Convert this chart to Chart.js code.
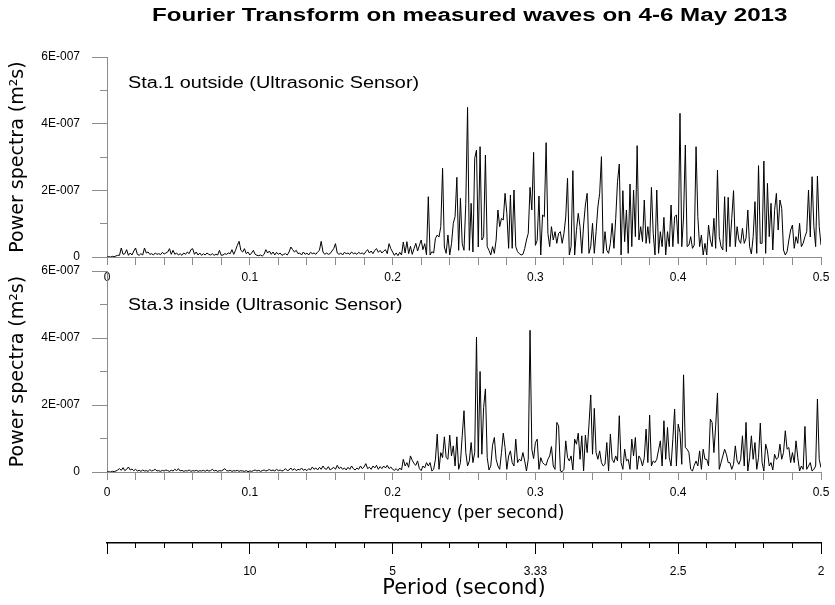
<!DOCTYPE html>
<html>
<head>
<meta charset="utf-8">
<script src="https://cdn.jsdelivr.net/npm/chart.js@4.4.1/dist/chart.umd.min.js"></script>
<style>
html,body{margin:0;padding:0;background:#fff;}
#wrap{position:relative;width:835px;height:605px;overflow:hidden;background:#fff;}
canvas{position:absolute;left:0;top:0;}
.txt{position:absolute;white-space:nowrap;transform-origin:0 0;color:#000;font-family:"Liberation Sans",Arial,sans-serif;line-height:1.15;}
#title{left:152px;top:5px;font-size:18px;font-weight:bold;transform:scaleX(1.34);}
#lab1{left:128px;top:74px;font-size:16px;transform:scaleX(1.24);}
#lab2{left:128px;top:296px;font-size:16px;transform:scaleX(1.22);}
</style>
</head>
<body>
<div id="wrap">
<canvas id="cTop" width="835" height="605"></canvas>
<canvas id="cBot" width="835" height="605"></canvas>
<canvas id="cPer" width="835" height="605"></canvas>
<div class="txt" id="title">Fourier Transform on measured waves on 4-6 May 2013</div>
<div class="txt" id="lab1">Sta.1 outside (Ultrasonic Sensor)</div>
<div class="txt" id="lab2">Sta.3 inside (Ultrasonic Sensor)</div>
</div>
<script>
// ---- DATA (power spectra in units of 1E-009 m²s, frequency step 0.00125 Hz from 0 to 0.5) ----
const FREQ_STEP = 0.00125;

const sta1Power = [
 0,1,0,2,1,3,5,5,27,8,10,22,5,12,6,18,
 27,8,5,10,6,27,12,15,8,10,6,12,8,10,7,14,
 9,12,15,25,8,20,8,12,6,10,5,12,8,15,10,22,
 25,8,15,6,12,5,10,6,12,8,6,10,5,8,6,20,
 5,6,10,8,12,10,22,8,20,35,47,20,15,25,10,15,
 6,12,20,8,5,4,6,3,8,22,12,18,8,15,6,14,
 8,12,5,8,10,6,15,30,22,15,20,10,12,6,15,8,
 12,6,14,10,12,8,15,20,47,15,8,12,8,10,18,25,
 40,12,8,12,6,14,10,12,8,15,10,12,8,14,10,12,
 8,16,22,12,18,10,20,25,14,20,12,18,22,10,40,25,
 15,5,12,4,14,6,45,12,46,10,32,8,25,41,18,35,
 51,22,40,6,181,6,16,12,56,66,60,91,266,30,11,66,
 6,40,101,121,239,20,176,40,20,161,449,20,161,15,296,321,
 30,331,51,61,306,31,20,6,31,11,51,141,91,116,111,191,
 131,26,186,26,201,31,16,10,6,8,25,51,71,209,141,314,
 35,50,183,6,126,121,343,71,31,91,51,76,41,71,76,41,
 71,120,236,6,31,259,6,80,131,91,11,96,156,191,11,31,
 101,11,76,150,191,301,11,76,20,11,41,101,26,116,226,279,
 6,199,46,141,11,219,31,201,61,334,51,91,46,171,41,91,
 41,209,71,6,201,11,76,31,119,6,76,31,156,31,121,126,
 40,431,31,120,336,31,36,61,26,36,331,121,31,66,6,41,
 6,96,51,31,116,26,261,61,31,21,181,16,179,31,116,199,
 31,91,51,41,86,41,56,141,31,9,61,166,11,274,41,41,
 288,11,221,61,161,21,140,191,81,171,146,21,6,16,51,81,
 96,26,61,41,101,31,41,61,76,201,60,241,91,31,243,91,36
];

const sta3Power = [
 0,1,0,2,1,3,6,10,5,13,4,8,15,6,9,4,
 8,3,5,2,6,3,4,2,7,3,5,8,3,4,2,5,
 3,6,4,2,5,3,8,4,10,3,5,2,4,3,6,2,
 4,3,5,2,4,3,5,2,6,3,4,8,3,5,2,4,
 3,6,10,4,3,5,2,4,3,5,2,4,3,2,4,1,
 3,2,4,6,3,5,2,4,6,3,5,7,4,6,3,8,
 4,6,3,5,10,4,6,12,5,10,4,8,6,12,5,8,
 4,10,6,15,8,12,6,14,8,18,10,8,16,6,10,14,
 8,20,10,15,8,12,6,14,8,18,10,6,12,8,18,10,
 15,25,10,14,8,18,12,20,8,16,10,18,12,20,10,15,
 8,5,10,4,12,6,38,18,28,14,48,35,25,20,33,10,
 4,18,12,28,18,28,3,8,38,113,8,58,43,105,43,38,
 110,48,78,18,105,8,28,108,183,58,18,33,88,28,58,403,
 43,300,53,193,248,43,6,18,80,103,38,18,8,58,116,73,
 8,48,63,28,18,98,28,38,33,58,33,3,38,423,68,40,
 88,98,8,43,28,23,20,38,48,76,18,8,148,138,3,1,
 8,93,43,33,48,6,98,83,116,38,108,3,110,58,140,230,
 53,190,58,38,63,28,18,23,88,3,113,38,28,48,33,168,
 28,8,68,33,38,8,98,48,103,8,48,38,18,43,128,28,
 170,18,33,28,38,66,93,18,153,38,133,43,18,98,188,18,
 143,118,23,290,73,68,58,8,3,20,33,18,63,8,68,38,
 38,18,158,148,58,138,236,8,28,48,68,53,28,28,8,23,
 78,33,23,38,108,18,148,3,43,108,38,88,8,43,146,28,
 3,83,63,18,28,6,53,38,43,83,38,58,123,68,73,28,
 58,28,93,43,3,18,8,136,8,18,28,3,8,18,218,38,13
];

const frequency = sta1Power.map((_, i) => +(i * FREQ_STEP).toFixed(5));

const yTickLabels = {0: '0', 200: '2E-007', 400: '4E-007', 600: '6E-007'};
const freqTickLabels = {0: '0', 1: '0.1', 2: '0.2', 3: '0.3', 4: '0.4', 5: '0.5'};
const periodTickLabels = {1: '10', 2: '5', 3: '3.33', 4: '2.5', 5: '2'};

// ---- STYLE ----
const AX = '#8c8c8c';
const FONT = '"Liberation Sans", Arial, sans-serif';
const W = 835, H = 605;

function tenth(v) {
  const k = Math.round(v * 10);
  return Math.abs(v * 10 - k) < 1e-6 ? k : null;
}

function panel(id, values, top, bottom, xH, xTitle) {
  return new Chart(document.getElementById(id), {
    type: 'line',
    data: {
      datasets: [{
        data: frequency.map((f, i) => ({x: f, y: values[i]})),
        borderColor: '#000', borderWidth: 1, pointRadius: 0, tension: 0, fill: false
      }]
    },
    options: {
      responsive: false, animation: false, events: [],
      layout: {padding: {left: 0, right: W - 821, top: top, bottom: H - bottom - xH}},
      plugins: {legend: {display: false}, tooltip: {enabled: false}},
      scales: {
        x: {
          type: 'linear', min: 0, max: 0.5, position: 'bottom',
          border: {display: true, color: AX, width: 1},
          grid: {display: true, drawOnChartArea: false, drawTicks: true, tickLength: 8, color: AX},
          ticks: {
            stepSize: 0.02, autoSkip: false, maxRotation: 0, padding: 5, color: '#000',
            font: {family: FONT, size: 12},
            callback: (v) => { const k = tenth(v); return k === null ? '' : freqTickLabels[k]; }
          },
          title: xTitle ? {display: true, text: xTitle, color: '#000',
                           font: {family: '"DejaVu Sans", sans-serif', size: 17}, padding: 0}
                        : {display: false},
          afterFit: (s) => { s.height = xH; }
        },
        y: {
          type: 'linear', min: 0, max: 600, position: 'left', weight: 1,
          border: {display: true, color: AX, width: 1},
          grid: {drawOnChartArea: false, drawTicks: true, tickLength: 15, color: AX},
          ticks: {
            stepSize: 200, padding: 12, color: '#000', font: {family: FONT, size: 12},
            callback: (v) => yTickLabels[v] !== undefined ? yTickLabels[v] : ''
          },
          title: {display: true, text: 'Power spectra (m²s)', color: '#000',
                  font: {family: '"DejaVu Sans", sans-serif', size: 19}, padding: {top: 7, bottom: 0}},
          afterFit: (s) => { s.width = 107; }
        },
        yMinor: {
          type: 'linear', min: 0, max: 600, position: 'left', weight: 0,
          border: {display: false},
          grid: {drawOnChartArea: false, drawTicks: true, tickLength: 7, color: AX},
          ticks: {stepSize: 100, display: false},
          afterFit: (s) => { s.width = 0; }
        }
      }
    }
  });
}

panel('cTop', sta1Power, 57, 257, 33, null);
panel('cBot', sta3Power, 271, 472, 52, 'Frequency (per second)');

// Period axis (same frequency scale, labelled as period = 1/frequency)
new Chart(document.getElementById('cPer'), {
  type: 'line',
  data: {datasets: []},
  options: {
    responsive: false, animation: false, events: [],
    layout: {padding: {left: 107, right: W - 821, top: 520, bottom: H - 543 - 58}},
    plugins: {legend: {display: false}, tooltip: {enabled: false}},
    scales: {
      y: {display: false, min: 0, max: 1},
      xMinor: {
        type: 'linear', min: 0, max: 0.5, position: 'bottom', weight: 0,
        border: {display: false},
        grid: {drawOnChartArea: false, drawTicks: true, tickLength: 5, color: '#000'},
        ticks: {stepSize: 0.02, autoSkip: false, display: false},
        afterFit: (s) => { s.height = 0; }
      },
      x: {
        type: 'linear', min: 0, max: 0.5, position: 'bottom', weight: 1,
        border: {display: true, color: '#000', width: 1.5},
        grid: {drawOnChartArea: false, drawTicks: true, tickLength: 11, color: '#000'},
        ticks: {
          stepSize: 0.1, autoSkip: false, maxRotation: 0, padding: 10, color: '#000',
          font: {family: FONT, size: 12},
          callback: (v) => { const k = tenth(v); return (k === null || !periodTickLabels[k]) ? '' : periodTickLabels[k]; }
        },
        title: {display: true, text: 'Period (second)', color: '#000',
                font: {family: '"DejaVu Sans", sans-serif', size: 21}, padding: 0},
        afterFit: (s) => { s.height = 58; }
      }
    }
  }
});
</script>
</body>
</html>
